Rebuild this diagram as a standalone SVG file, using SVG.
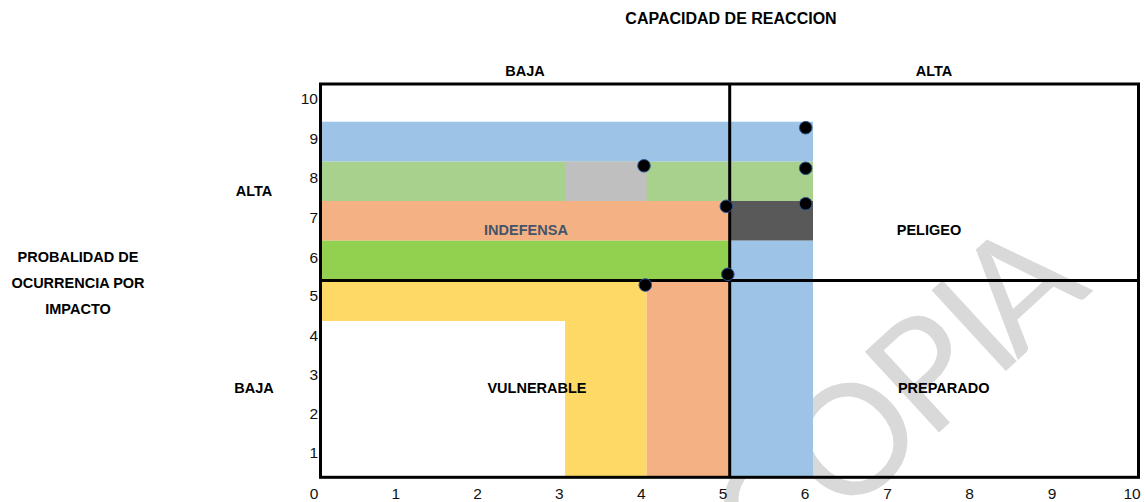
<svg xmlns="http://www.w3.org/2000/svg" width="1145" height="502" viewBox="0 0 1145 502">
  <style>
    .lbl { font-family: "Liberation Sans", Arial, sans-serif; font-weight: bold; font-size: 14.5px; fill: #000; text-anchor: middle; }
    .ttl { font-size: 16px; }
    .slate { fill: #44546A; }
    .tick { font-family: "Liberation Sans", Arial, sans-serif; font-size: 15.5px; fill: #111; }
    .ty { text-anchor: end; }
    .tx { text-anchor: middle; }
    .pt { fill: #000; stroke: #2F5597; stroke-width: 1; }
    .frame { fill: none; stroke: #000; stroke-width: 3; }
    .div { stroke: #000; stroke-width: 3; }
    .blue { fill: #9DC3E6; }
    .lgreen { fill: #A9D18E; }
    .gray { fill: #BFBFBF; }
    .orange { fill: #F4B183; }
    .green { fill: #92D050; }
    .yellow { fill: #FFD966; }
    .dgray { fill: #595959; }
  </style>
  <rect x="0" y="0" width="1145" height="502" fill="#FFFFFF"/>

  <!-- watermark -->
  <text id="watermark" transform="translate(944 428) rotate(-42.6)" x="-233 -137 -20.7 70 100" y="0" font-family="Lato, 'Liberation Sans', sans-serif" font-size="153" fill="#D9D9D9">COPIA</text>

  <!-- coloured bands -->
  <g id="bands">
    <rect class="blue" x="320" y="121.7" width="493" height="40"/>
    <rect class="lgreen" x="320" y="161.7" width="493" height="39.3"/>
    <rect class="gray" x="565" y="161.7" width="81.7" height="39.3"/>
    <rect class="orange" x="320" y="201" width="409.5" height="39.7"/>
    <rect class="dgray" x="729.5" y="201" width="83.5" height="39.7"/>
    <rect class="green" x="320" y="240.7" width="409.5" height="39.8"/>
    <rect class="blue" x="729.5" y="240.7" width="83.5" height="236.3"/>
    <rect class="yellow" x="320" y="280.5" width="326.7" height="40.5"/>
    <rect class="yellow" x="565" y="321" width="81.7" height="156"/>
    <rect class="orange" x="646.7" y="280.5" width="82.8" height="196.5"/>
  </g>

  <!-- frame and quadrant dividers -->
  <g id="connectors">
    <rect class="frame" x="320.5" y="84" width="818" height="393.3"/>
    <line class="div" x1="320.5" y1="280.5" x2="1138.5" y2="280.5"/>
    <line class="div" x1="729.7" y1="84" x2="729.7" y2="477.3"/>
  </g>

  <!-- axis ticks -->
  <g id="y-ticks">
    <text class="tick ty" x="318" y="104">10</text>
    <text class="tick ty" x="318" y="144">9</text>
    <text class="tick ty" x="318" y="183">8</text>
    <text class="tick ty" x="318" y="223">7</text>
    <text class="tick ty" x="318" y="262.5">6</text>
    <text class="tick ty" x="318" y="301">5</text>
    <text class="tick ty" x="318" y="340.5">4</text>
    <text class="tick ty" x="318" y="380">3</text>
    <text class="tick ty" x="318" y="419.3">2</text>
    <text class="tick ty" x="318" y="458.3">1</text>
  </g>
  <g id="x-ticks">
    <text class="tick tx" x="314" y="499">0</text>
    <text class="tick tx" x="395.8" y="499">1</text>
    <text class="tick tx" x="477.6" y="499">2</text>
    <text class="tick tx" x="559.4" y="499">3</text>
    <text class="tick tx" x="641.2" y="499">4</text>
    <text class="tick tx" x="723" y="499">5</text>
    <text class="tick tx" x="805" y="499">6</text>
    <text class="tick tx" x="887.5" y="499">7</text>
    <text class="tick tx" x="969.5" y="499">8</text>
    <text class="tick tx" x="1052" y="499">9</text>
    <text class="tick tx" x="1132" y="499">10</text>
  </g>

  <!-- titles -->
  <g id="axis-titles">
    <text class="lbl ttl" x="731" y="24">CAPACIDAD DE REACCION</text>
    <text class="lbl" x="525" y="76">BAJA</text>
    <text class="lbl" x="934" y="76">ALTA</text>
    <text class="lbl" x="254" y="195.7">ALTA</text>
    <text class="lbl" x="254" y="393.3">BAJA</text>
    <text class="lbl" x="78" y="262.3">PROBALIDAD DE</text>
    <text class="lbl" x="78" y="288.3">OCURRENCIA POR</text>
    <text class="lbl" x="78" y="314">IMPACTO</text>
  </g>

  <!-- quadrant labels -->
  <g id="node-indefensa"><text class="lbl slate" x="526" y="235">INDEFENSA</text></g>
  <g id="node-peligeo"><text class="lbl" x="929" y="235">PELIGEO</text></g>
  <g id="node-vulnerable"><text class="lbl" x="537" y="392.7">VULNERABLE</text></g>
  <g id="node-preparado"><text class="lbl" x="943.7" y="393.3">PREPARADO</text></g>

  <!-- data points -->
  <g id="points">
    <circle id="p1" class="pt" cx="805.7" cy="127.7" r="6.3"/>
    <circle id="p2" class="pt" cx="805.7" cy="168.3" r="6.3"/>
    <circle id="p3" class="pt" cx="805.7" cy="203.7" r="6.3"/>
    <circle id="p4" class="pt" cx="644" cy="165.8" r="6.3"/>
    <circle id="p5" class="pt" cx="726.3" cy="206.3" r="6.3"/>
    <circle id="p6" class="pt" cx="727.8" cy="274.3" r="6.3"/>
    <circle id="p7" class="pt" cx="645.3" cy="285" r="6.3"/>
  </g>
</svg>
